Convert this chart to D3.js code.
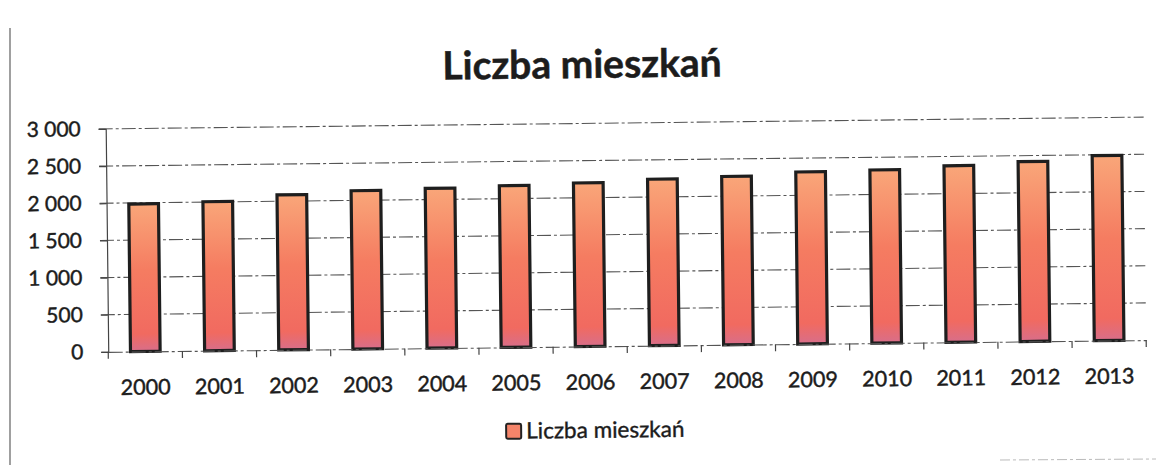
<!DOCTYPE html>
<html>
<head>
<meta charset="utf-8">
<script src="https://cdn.jsdelivr.net/npm/d3@7"></script>
<style>
  html, body { margin: 0; padding: 0; background: #ffffff; }
  svg { display: block; }
  text { font-family: Lato, "Open Sans", sans-serif; fill: #1c1c1c; }
</style>
</head>
<body>
<script>
const title = "Liczba mieszkań";
const seriesName = "Liczba mieszkań";
const years = ["2000","2001","2002","2003","2004","2005","2006","2007","2008","2009","2010","2011","2012","2013"];
const values = [1985, 2005, 2085, 2130, 2150, 2175, 2200, 2240, 2265, 2315, 2330, 2375, 2420, 2490];
const yTicks = [0, 500, 1000, 1500, 2000, 2500, 3000];
const yTickLabels = ["0", "500", "1 000", "1 500", "2 000", "2 500", "3 000"];

const W = 1156, H = 465;
const svg = d3.select("body").append("svg").attr("width", W).attr("height", H);

const defs = svg.append("defs");
const grad = defs.append("linearGradient").attr("id", "barGrad")
  .attr("x1", 0).attr("y1", 0).attr("x2", 0).attr("y2", 1);
grad.append("stop").attr("offset", "0%").attr("stop-color", "#f9a679");
grad.append("stop").attr("offset", "45%").attr("stop-color", "#f57c61");
grad.append("stop").attr("offset", "88%").attr("stop-color", "#f16a60");
grad.append("stop").attr("offset", "100%").attr("stop-color", "#d86e8a");

// scan frame line on the left
svg.append("line").attr("x1", 10).attr("x2", 10).attr("y1", 28).attr("y2", 465)
  .attr("stroke", "#777").attr("stroke-width", 1.4);
svg.append("line").attr("x1", 1000).attr("x2", 1156).attr("y1", 460).attr("y2", 459)
  .attr("stroke", "#bbb").attr("stroke-width", 1).attr("stroke-dasharray", "10,3,3,3");

const g = svg.append("g").attr("transform", "rotate(-0.65, 580, 240)");

const x = d3.scaleBand().domain(years).range([107, 1145])
  .paddingInner(0.6).paddingOuter(0.3);
const y = d3.scaleLinear().domain([0, 3000]).range([346.5, 123.5]);

// title
g.append("text").attr("x", 584).attr("y", 78).attr("text-anchor", "middle")
  .attr("font-size", 39).attr("font-weight", "bold")
  .attr("stroke", "#1c1c1c").attr("stroke-width", 0.5).text(title);

// gridlines
g.append("g").selectAll("line").data(yTicks.filter(d => d > 0)).join("line")
  .attr("x1", 100).attr("x2", 1145)
  .attr("y1", d => y(d)).attr("y2", d => y(d))
  .attr("stroke", "#555").attr("stroke-width", 1.1)
  .attr("stroke-dasharray", "14,3,3,3");

// y axis
const yAxis = g.append("g").attr("transform", "translate(107,0)")
  .call(d3.axisLeft(y).tickValues(yTicks).tickSize(7).tickPadding(18)
    .tickFormat((d, i) => yTickLabels[i]));
yAxis.select(".domain").attr("stroke", "#444").attr("stroke-width", 1.2);
yAxis.selectAll(".tick line").attr("stroke", "#444").attr("stroke-width", 1.2);
yAxis.selectAll(".tick text").attr("font-size", 21).attr("fill", "#1c1c1c")
  .attr("stroke", "#1c1c1c").attr("stroke-width", 0.45)
  .style("font-family", "Lato, 'Open Sans', sans-serif");

// bars
g.append("g").selectAll("rect").data(years).join("rect")
  .attr("x", d => x(d))
  .attr("y", (d, i) => y(values[i]))
  .attr("width", x.bandwidth())
  .attr("height", (d, i) => y(0) - y(values[i]))
  .attr("fill", "url(#barGrad)")
  .attr("stroke", "#1e1e1e").attr("stroke-width", 3.2);

// x axis
const xAxis = g.append("g").attr("transform", `translate(0,${y(0)})`)
  .call(d3.axisBottom(x).tickSize(0).tickPadding(28));
xAxis.select(".domain").attr("stroke", "#555").attr("stroke-width", 1.1)
  .attr("stroke-dasharray", "14,3,3,3");
xAxis.selectAll(".tick text").attr("font-size", 21.5).attr("fill", "#1c1c1c")
  .attr("stroke", "#1c1c1c").attr("stroke-width", 0.45)
  .style("font-family", "Lato, 'Open Sans', sans-serif");
// category separator ticks
const step = x.step();
g.append("g").selectAll("line").data(d3.range(years.length + 1)).join("line")
  .attr("x1", i => 107 + i * step).attr("x2", i => 107 + i * step)
  .attr("y1", y(0)).attr("y2", y(0) + 7)
  .attr("stroke", "#444").attr("stroke-width", 1.2);

// legend
const lg = g.append("g").attr("transform", "translate(504,423)");
lg.append("rect").attr("x", 0).attr("y", 0).attr("width", 15).attr("height", 15)
  .attr("fill", "#f4846a").attr("stroke", "#222").attr("stroke-width", 2).attr("rx", 1.5);
lg.append("text").attr("x", 20).attr("y", 15).attr("font-size", 22.5)
  .attr("stroke", "#1c1c1c").attr("stroke-width", 0.4).text(seriesName);
</script>
</body>
</html>
